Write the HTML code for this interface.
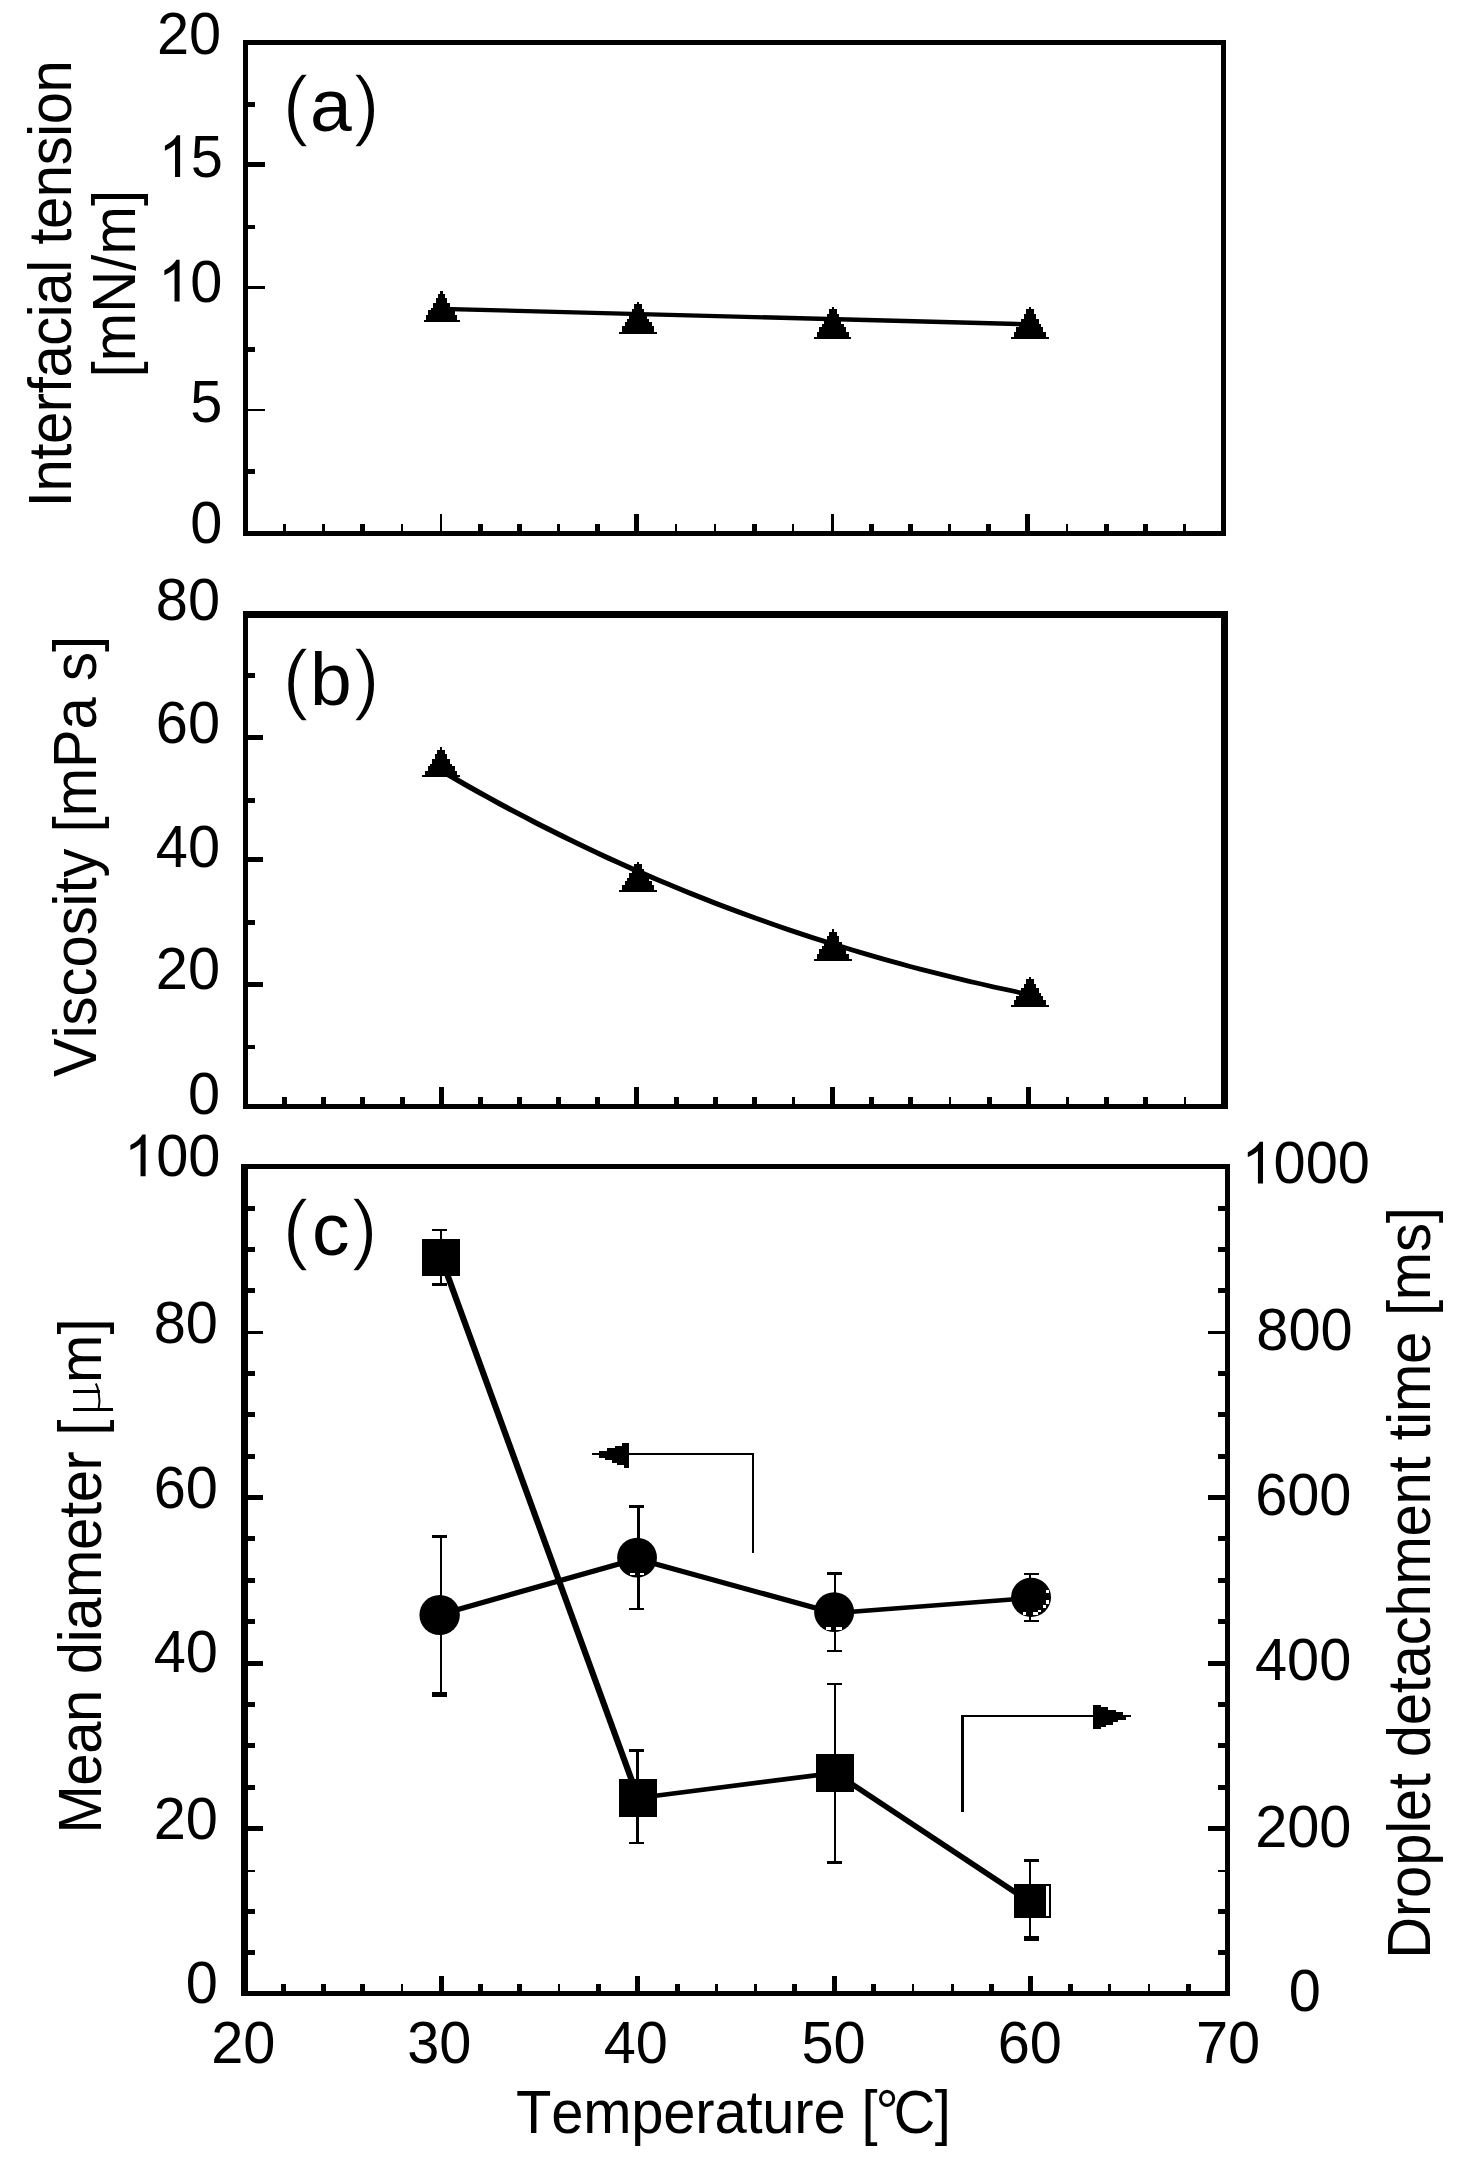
<!DOCTYPE html>
<html lang="en">
<head>
<meta charset="utf-8">
<title>Temperature dependence of interfacial tension, viscosity, droplet diameter and detachment time</title>
<style>
html,body{margin:0;padding:0;background:#fff;}
body{width:1462px;height:2159px;overflow:hidden;font-family:"Liberation Sans", sans-serif;}
svg{display:block;}
text{font-family:"Liberation Sans", sans-serif;}
</style>
</head>
<body>
<svg width="1462" height="2159" viewBox="0 0 1462 2159">
<rect x="0" y="0" width="1462" height="2159" fill="#fff"/>
<g shape-rendering="crispEdges">
<rect x="243.00" y="40.00" width="5.00" height="496.00" fill="#000"/>
<rect x="1221.00" y="40.00" width="5.00" height="496.00" fill="#000"/>
<rect x="243.00" y="40.00" width="983.00" height="5.00" fill="#000"/>
<rect x="243.00" y="531.00" width="983.00" height="5.00" fill="#000"/>
<rect x="243.00" y="611.00" width="5.00" height="498.00" fill="#000"/>
<rect x="1221.00" y="611.00" width="7.00" height="498.00" fill="#000"/>
<rect x="243.00" y="611.00" width="985.00" height="7.00" fill="#000"/>
<rect x="243.00" y="1104.00" width="985.00" height="5.00" fill="#000"/>
<rect x="241.00" y="1164.00" width="7.00" height="832.00" fill="#000"/>
<rect x="1225.00" y="1164.00" width="5.00" height="832.00" fill="#000"/>
<rect x="241.00" y="1164.00" width="989.00" height="5.00" fill="#000"/>
<rect x="241.00" y="1991.00" width="989.00" height="5.00" fill="#000"/>
<rect x="283.37" y="523.50" width="2.50" height="8.50" fill="#000"/>
<rect x="322.49" y="523.50" width="2.50" height="8.50" fill="#000"/>
<rect x="360.36" y="523.50" width="5.00" height="8.50" fill="#000"/>
<rect x="400.73" y="523.50" width="2.50" height="8.50" fill="#000"/>
<rect x="439.85" y="513.50" width="2.50" height="18.50" fill="#000"/>
<rect x="477.72" y="523.50" width="5.00" height="8.50" fill="#000"/>
<rect x="516.84" y="523.50" width="5.00" height="8.50" fill="#000"/>
<rect x="557.21" y="523.50" width="2.50" height="8.50" fill="#000"/>
<rect x="595.08" y="523.50" width="5.00" height="8.50" fill="#000"/>
<rect x="634.20" y="513.50" width="5.00" height="18.50" fill="#000"/>
<rect x="674.57" y="523.50" width="2.50" height="8.50" fill="#000"/>
<rect x="713.69" y="523.50" width="2.50" height="8.50" fill="#000"/>
<rect x="751.56" y="523.50" width="5.00" height="8.50" fill="#000"/>
<rect x="791.93" y="523.50" width="2.50" height="8.50" fill="#000"/>
<rect x="831.05" y="513.50" width="2.50" height="18.50" fill="#000"/>
<rect x="868.92" y="523.50" width="5.00" height="8.50" fill="#000"/>
<rect x="908.04" y="523.50" width="5.00" height="8.50" fill="#000"/>
<rect x="948.41" y="523.50" width="2.50" height="8.50" fill="#000"/>
<rect x="986.28" y="523.50" width="5.00" height="8.50" fill="#000"/>
<rect x="1025.40" y="513.50" width="5.00" height="18.50" fill="#000"/>
<rect x="1065.77" y="523.50" width="2.50" height="8.50" fill="#000"/>
<rect x="1103.64" y="523.50" width="5.00" height="8.50" fill="#000"/>
<rect x="1142.76" y="523.50" width="5.00" height="8.50" fill="#000"/>
<rect x="1183.13" y="523.50" width="2.50" height="8.50" fill="#000"/>
<rect x="282.14" y="1097.00" width="5.00" height="8.00" fill="#000"/>
<rect x="321.28" y="1097.00" width="5.00" height="8.00" fill="#000"/>
<rect x="360.42" y="1097.00" width="5.00" height="8.00" fill="#000"/>
<rect x="399.56" y="1097.00" width="5.00" height="8.00" fill="#000"/>
<rect x="438.70" y="1087.00" width="5.00" height="18.00" fill="#000"/>
<rect x="477.84" y="1097.00" width="5.00" height="8.00" fill="#000"/>
<rect x="516.98" y="1097.00" width="5.00" height="8.00" fill="#000"/>
<rect x="556.12" y="1097.00" width="5.00" height="8.00" fill="#000"/>
<rect x="595.26" y="1097.00" width="5.00" height="8.00" fill="#000"/>
<rect x="634.40" y="1087.00" width="5.00" height="18.00" fill="#000"/>
<rect x="673.54" y="1097.00" width="5.00" height="8.00" fill="#000"/>
<rect x="712.68" y="1097.00" width="5.00" height="8.00" fill="#000"/>
<rect x="751.82" y="1097.00" width="5.00" height="8.00" fill="#000"/>
<rect x="792.21" y="1097.00" width="2.50" height="8.00" fill="#000"/>
<rect x="830.10" y="1087.00" width="5.00" height="18.00" fill="#000"/>
<rect x="869.24" y="1097.00" width="5.00" height="8.00" fill="#000"/>
<rect x="908.38" y="1097.00" width="5.00" height="8.00" fill="#000"/>
<rect x="948.77" y="1097.00" width="2.50" height="8.00" fill="#000"/>
<rect x="986.66" y="1097.00" width="5.00" height="8.00" fill="#000"/>
<rect x="1025.80" y="1087.00" width="5.00" height="18.00" fill="#000"/>
<rect x="1066.19" y="1097.00" width="2.50" height="8.00" fill="#000"/>
<rect x="1104.08" y="1097.00" width="5.00" height="8.00" fill="#000"/>
<rect x="1143.22" y="1097.00" width="5.00" height="8.00" fill="#000"/>
<rect x="1183.61" y="1097.00" width="2.50" height="8.00" fill="#000"/>
<rect x="281.32" y="1983.50" width="5.00" height="8.50" fill="#000"/>
<rect x="320.64" y="1983.50" width="5.00" height="8.50" fill="#000"/>
<rect x="359.96" y="1983.50" width="5.00" height="8.50" fill="#000"/>
<rect x="400.53" y="1983.50" width="2.50" height="8.50" fill="#000"/>
<rect x="438.60" y="1976.00" width="5.00" height="16.00" fill="#000"/>
<rect x="477.92" y="1983.50" width="5.00" height="8.50" fill="#000"/>
<rect x="517.24" y="1983.50" width="5.00" height="8.50" fill="#000"/>
<rect x="557.81" y="1983.50" width="2.50" height="8.50" fill="#000"/>
<rect x="595.88" y="1983.50" width="5.00" height="8.50" fill="#000"/>
<rect x="635.20" y="1976.00" width="5.00" height="16.00" fill="#000"/>
<rect x="674.52" y="1983.50" width="5.00" height="8.50" fill="#000"/>
<rect x="715.09" y="1983.50" width="2.50" height="8.50" fill="#000"/>
<rect x="754.41" y="1983.50" width="2.50" height="8.50" fill="#000"/>
<rect x="792.48" y="1983.50" width="5.00" height="8.50" fill="#000"/>
<rect x="831.80" y="1976.00" width="5.00" height="16.00" fill="#000"/>
<rect x="871.12" y="1983.50" width="5.00" height="8.50" fill="#000"/>
<rect x="911.69" y="1983.50" width="2.50" height="8.50" fill="#000"/>
<rect x="951.01" y="1983.50" width="2.50" height="8.50" fill="#000"/>
<rect x="989.08" y="1983.50" width="5.00" height="8.50" fill="#000"/>
<rect x="1028.40" y="1976.00" width="5.00" height="16.00" fill="#000"/>
<rect x="1067.72" y="1983.50" width="5.00" height="8.50" fill="#000"/>
<rect x="1108.29" y="1983.50" width="2.50" height="8.50" fill="#000"/>
<rect x="1147.61" y="1983.50" width="2.50" height="8.50" fill="#000"/>
<rect x="1185.68" y="1983.50" width="5.00" height="8.50" fill="#000"/>
<rect x="247.00" y="102.25" width="8.00" height="5.00" fill="#000"/>
<rect x="247.00" y="161.95" width="18.00" height="5.30" fill="#000"/>
<rect x="247.00" y="224.55" width="8.00" height="4.50" fill="#000"/>
<rect x="247.00" y="286.20" width="18.00" height="2.80" fill="#000"/>
<rect x="247.00" y="346.60" width="8.00" height="5.00" fill="#000"/>
<rect x="247.00" y="408.60" width="18.00" height="2.40" fill="#000"/>
<rect x="247.00" y="468.80" width="8.00" height="5.00" fill="#000"/>
<rect x="247.00" y="672.80" width="8.00" height="5.20" fill="#000"/>
<rect x="247.00" y="735.15" width="15.70" height="5.20" fill="#000"/>
<rect x="247.00" y="797.60" width="8.00" height="5.20" fill="#000"/>
<rect x="247.00" y="857.40" width="15.70" height="4.80" fill="#000"/>
<rect x="247.00" y="920.20" width="8.00" height="4.60" fill="#000"/>
<rect x="247.00" y="982.20" width="15.70" height="4.60" fill="#000"/>
<rect x="247.00" y="1044.70" width="8.00" height="4.60" fill="#000"/>
<rect x="247.00" y="1949.95" width="8.00" height="5.00" fill="#000"/>
<rect x="247.00" y="1908.60" width="8.00" height="5.00" fill="#000"/>
<rect x="247.00" y="1869.80" width="8.00" height="2.40" fill="#000"/>
<rect x="247.00" y="1825.90" width="15.50" height="5.00" fill="#000"/>
<rect x="247.00" y="1784.55" width="8.00" height="5.00" fill="#000"/>
<rect x="247.00" y="1743.20" width="8.00" height="5.00" fill="#000"/>
<rect x="247.00" y="1701.85" width="8.00" height="5.00" fill="#000"/>
<rect x="247.00" y="1660.50" width="15.50" height="5.00" fill="#000"/>
<rect x="247.00" y="1619.15" width="8.00" height="5.00" fill="#000"/>
<rect x="247.00" y="1577.80" width="8.00" height="5.00" fill="#000"/>
<rect x="247.00" y="1536.45" width="8.00" height="5.00" fill="#000"/>
<rect x="247.00" y="1495.10" width="15.50" height="5.00" fill="#000"/>
<rect x="247.00" y="1453.75" width="8.00" height="5.00" fill="#000"/>
<rect x="247.00" y="1412.40" width="8.00" height="5.00" fill="#000"/>
<rect x="247.00" y="1371.05" width="8.00" height="5.00" fill="#000"/>
<rect x="247.00" y="1331.15" width="15.50" height="2.70" fill="#000"/>
<rect x="247.00" y="1288.35" width="8.00" height="5.00" fill="#000"/>
<rect x="247.00" y="1247.00" width="8.00" height="5.00" fill="#000"/>
<rect x="247.00" y="1205.65" width="8.00" height="5.00" fill="#000"/>
<rect x="1218.20" y="1949.95" width="7.80" height="5.00" fill="#000"/>
<rect x="1218.20" y="1908.60" width="7.80" height="5.00" fill="#000"/>
<rect x="1218.20" y="1869.80" width="7.80" height="2.40" fill="#000"/>
<rect x="1207.90" y="1825.90" width="18.10" height="5.00" fill="#000"/>
<rect x="1218.20" y="1784.55" width="7.80" height="5.00" fill="#000"/>
<rect x="1218.20" y="1743.20" width="7.80" height="5.00" fill="#000"/>
<rect x="1218.20" y="1701.85" width="7.80" height="5.00" fill="#000"/>
<rect x="1207.90" y="1660.50" width="18.10" height="5.00" fill="#000"/>
<rect x="1218.20" y="1619.15" width="7.80" height="5.00" fill="#000"/>
<rect x="1218.20" y="1577.80" width="7.80" height="5.00" fill="#000"/>
<rect x="1218.20" y="1536.45" width="7.80" height="5.00" fill="#000"/>
<rect x="1207.90" y="1495.10" width="18.10" height="5.00" fill="#000"/>
<rect x="1218.20" y="1453.75" width="7.80" height="5.00" fill="#000"/>
<rect x="1218.20" y="1412.40" width="7.80" height="5.00" fill="#000"/>
<rect x="1218.20" y="1371.05" width="7.80" height="5.00" fill="#000"/>
<rect x="1207.90" y="1331.15" width="18.10" height="2.70" fill="#000"/>
<rect x="1218.20" y="1288.35" width="7.80" height="5.00" fill="#000"/>
<rect x="1218.20" y="1247.00" width="7.80" height="5.00" fill="#000"/>
<rect x="1218.20" y="1205.65" width="7.80" height="5.00" fill="#000"/>
</g>
<g font-family='"Liberation Sans", sans-serif' fill="#000" style="font-kerning:none">
<g aria-label="20">
<text transform="translate(157.00,54.00) scale(0.995,1.035)" font-size="58">2</text>
<text transform="translate(189.10,54.00) scale(0.995,1.035)" font-size="58">0</text>
</g>
<g aria-label="15">
<path transform="translate(158.60,177.00) scale(0.02818,-0.02832)" d="M763 0H583V1147Q518 1085 412.5 1023T223 930V1104Q374 1175 487 1276T647 1472H763Z"/>
<text transform="translate(190.70,177.00) scale(0.995,1.035)" font-size="58">5</text>
</g>
<g aria-label="10">
<path transform="translate(158.10,301.50) scale(0.02818,-0.02832)" d="M763 0H583V1147Q518 1085 412.5 1023T223 930V1104Q374 1175 487 1276T647 1472H763Z"/>
<text transform="translate(190.20,301.50) scale(0.995,1.035)" font-size="58">0</text>
</g>
<g aria-label="5">
<text transform="translate(190.20,421.50) scale(0.995,1.035)" font-size="58">5</text>
</g>
<g aria-label="0">
<text transform="translate(190.20,543.00) scale(0.995,1.035)" font-size="58">0</text>
</g>
<g aria-label="80">
<text transform="translate(155.80,620.40) scale(0.995,1.035)" font-size="58">8</text>
<text transform="translate(187.90,620.40) scale(0.995,1.035)" font-size="58">0</text>
</g>
<g aria-label="60">
<text transform="translate(155.80,742.60) scale(0.995,1.035)" font-size="58">6</text>
<text transform="translate(187.90,742.60) scale(0.995,1.035)" font-size="58">0</text>
</g>
<g aria-label="40">
<text transform="translate(155.80,867.20) scale(0.995,1.035)" font-size="58">4</text>
<text transform="translate(187.90,867.20) scale(0.995,1.035)" font-size="58">0</text>
</g>
<g aria-label="20">
<text transform="translate(155.80,989.40) scale(0.995,1.035)" font-size="58">2</text>
<text transform="translate(187.90,989.40) scale(0.995,1.035)" font-size="58">0</text>
</g>
<g aria-label="0">
<text transform="translate(187.90,1113.50) scale(0.995,1.035)" font-size="58">0</text>
</g>
<g aria-label="100">
<path transform="translate(124.11,1176.30) scale(0.02818,-0.02832)" d="M763 0H583V1147Q518 1085 412.5 1023T223 930V1104Q374 1175 487 1276T647 1472H763Z"/>
<text transform="translate(156.20,1176.30) scale(0.995,1.035)" font-size="58">0</text>
<text transform="translate(188.30,1176.30) scale(0.995,1.035)" font-size="58">0</text>
</g>
<g aria-label="80">
<text transform="translate(153.70,1343.00) scale(0.995,1.035)" font-size="58">8</text>
<text transform="translate(185.80,1343.00) scale(0.995,1.035)" font-size="58">0</text>
</g>
<g aria-label="60">
<text transform="translate(153.70,1507.60) scale(0.995,1.035)" font-size="58">6</text>
<text transform="translate(185.80,1507.60) scale(0.995,1.035)" font-size="58">0</text>
</g>
<g aria-label="40">
<text transform="translate(153.70,1672.00) scale(0.995,1.035)" font-size="58">4</text>
<text transform="translate(185.80,1672.00) scale(0.995,1.035)" font-size="58">0</text>
</g>
<g aria-label="20">
<text transform="translate(153.70,1839.30) scale(0.995,1.035)" font-size="58">2</text>
<text transform="translate(185.80,1839.30) scale(0.995,1.035)" font-size="58">0</text>
</g>
<g aria-label="0">
<text transform="translate(185.80,2003.00) scale(0.995,1.035)" font-size="58">0</text>
</g>
<g aria-label="1000">
<path transform="translate(1241.50,1183.40) scale(0.02818,-0.02832)" d="M763 0H583V1147Q518 1085 412.5 1023T223 930V1104Q374 1175 487 1276T647 1472H763Z"/>
<text transform="translate(1273.60,1183.40) scale(0.995,1.035)" font-size="58">0</text>
<text transform="translate(1305.70,1183.40) scale(0.995,1.035)" font-size="58">0</text>
<text transform="translate(1337.80,1183.40) scale(0.995,1.035)" font-size="58">0</text>
</g>
<g aria-label="800">
<text transform="translate(1256.35,1350.00) scale(0.995,1.035)" font-size="58">8</text>
<text transform="translate(1288.45,1350.00) scale(0.995,1.035)" font-size="58">0</text>
<text transform="translate(1320.55,1350.00) scale(0.995,1.035)" font-size="58">0</text>
</g>
<g aria-label="600">
<text transform="translate(1255.15,1515.00) scale(0.995,1.035)" font-size="58">6</text>
<text transform="translate(1287.25,1515.00) scale(0.995,1.035)" font-size="58">0</text>
<text transform="translate(1319.35,1515.00) scale(0.995,1.035)" font-size="58">0</text>
</g>
<g aria-label="400">
<text transform="translate(1254.95,1679.60) scale(0.995,1.035)" font-size="58">4</text>
<text transform="translate(1287.05,1679.60) scale(0.995,1.035)" font-size="58">0</text>
<text transform="translate(1319.15,1679.60) scale(0.995,1.035)" font-size="58">0</text>
</g>
<g aria-label="200">
<text transform="translate(1255.15,1846.80) scale(0.995,1.035)" font-size="58">2</text>
<text transform="translate(1287.25,1846.80) scale(0.995,1.035)" font-size="58">0</text>
<text transform="translate(1319.35,1846.80) scale(0.995,1.035)" font-size="58">0</text>
</g>
<g aria-label="0">
<text transform="translate(1288.65,2010.50) scale(0.995,1.035)" font-size="58">0</text>
</g>
<g aria-label="20">
<text transform="translate(211.20,2063.20) scale(0.995,1.035)" font-size="58">2</text>
<text transform="translate(243.30,2063.20) scale(0.995,1.035)" font-size="58">0</text>
</g>
<g aria-label="30">
<text transform="translate(407.20,2063.20) scale(0.995,1.035)" font-size="58">3</text>
<text transform="translate(439.30,2063.20) scale(0.995,1.035)" font-size="58">0</text>
</g>
<g aria-label="40">
<text transform="translate(603.70,2063.20) scale(0.995,1.035)" font-size="58">4</text>
<text transform="translate(635.80,2063.20) scale(0.995,1.035)" font-size="58">0</text>
</g>
<g aria-label="50">
<text transform="translate(801.40,2063.20) scale(0.995,1.035)" font-size="58">5</text>
<text transform="translate(833.50,2063.20) scale(0.995,1.035)" font-size="58">0</text>
</g>
<g aria-label="60">
<text transform="translate(997.70,2063.20) scale(0.995,1.035)" font-size="58">6</text>
<text transform="translate(1029.80,2063.20) scale(0.995,1.035)" font-size="58">0</text>
</g>
<g aria-label="70">
<text transform="translate(1195.90,2063.20) scale(0.995,1.035)" font-size="58">7</text>
<text transform="translate(1228.00,2063.20) scale(0.995,1.035)" font-size="58">0</text>
</g>
<text transform="translate(516.00,2133.00) scale(1.0,1.045)" font-size="58" text-anchor="start" textLength="361.5" lengthAdjust="spacing">Temperature [</text>
<text transform="translate(875.50,2133.00) scale(1.0,1.045)" font-size="58" text-anchor="start">°</text>
<text transform="translate(893.60,2133.00) scale(1.0,1.045)" font-size="58" text-anchor="start">C</text>
<text transform="translate(934.70,2133.00) scale(1.0,1.045)" font-size="58" text-anchor="start">]</text>
<text transform="translate(70.60,283.70) rotate(-90) scale(1,1.045)" font-size="58" text-anchor="middle" textLength="447.0" lengthAdjust="spacing">Interfacial tension</text>
<text transform="translate(135.40,283.70) rotate(-90) scale(1,1.045)" font-size="58" text-anchor="middle" textLength="187.6" lengthAdjust="spacing">[mN/m]</text>
<text transform="translate(95.70,856.50) rotate(-90) scale(1,1.045)" font-size="58" text-anchor="middle" textLength="441.0" lengthAdjust="spacing">Viscosity [mPa s]</text>
<text transform="translate(100.60,1833.60) rotate(-90) scale(1,1.045)" font-size="58" text-anchor="start" textLength="414.0" lengthAdjust="spacing">Mean diameter [</text>
<g shape-rendering="crispEdges">
<rect x="72.90" y="1408.00" width="40.10" height="3.00" fill="#000"/>
<rect x="72.90" y="1390.00" width="27.40" height="3.10" fill="#000"/>
</g>
<path d="M98.6,1409 C99.8,1403.5 99.8,1398 98.6,1392.5 C98.0,1388.5 97.0,1385.5 95.8,1383.4" fill="none" stroke="#000" stroke-width="2"/>
<text transform="translate(100.60,1382.90) rotate(-90) scale(1,1.045)" font-size="58" text-anchor="start">m]</text>
<text transform="translate(1430.30,1582.90) rotate(-90) scale(1,1.045)" font-size="58" text-anchor="middle" textLength="751.5" lengthAdjust="spacing">Droplet detachment time [ms]</text>
<g stroke="#fff" stroke-width="1.3">
<text transform="translate(282.70,131.00) scale(1.0,1.0)" font-size="78" text-anchor="start">(</text>
<text transform="translate(353.60,131.00) scale(1.0,1.0)" font-size="78" text-anchor="start">)</text>
</g>
<text transform="translate(330.80,131.00) scale(1.0,1.0)" font-size="75" text-anchor="middle">a</text>
<g stroke="#fff" stroke-width="1.3">
<text transform="translate(282.70,704.70) scale(1.0,1.0)" font-size="78" text-anchor="start">(</text>
<text transform="translate(353.60,704.70) scale(1.0,1.0)" font-size="78" text-anchor="start">)</text>
</g>
<text transform="translate(330.80,704.70) scale(1.0,1.0)" font-size="75" text-anchor="middle">b</text>
<g stroke="#fff" stroke-width="1.3">
<text transform="translate(282.70,1255.00) scale(1.0,1.0)" font-size="78" text-anchor="start">(</text>
<text transform="translate(351.40,1255.00) scale(1.0,1.0)" font-size="78" text-anchor="start">)</text>
</g>
<text transform="translate(330.80,1255.00) scale(1.0,1.0)" font-size="75" text-anchor="middle">c</text>
</g>
<g fill="#000" stroke="none">
<path d="M438.9,306.7L443.1,306.7L1031.7,322.2L1031.7,326.5L1027.3,326.5L438.9,310.9Z"/>
<polygon shape-rendering="crispEdges" points="442.6,291.3 442.6,293.6 445.2,293.6 445.2,298.1 447.4,298.1 447.4,303.0 449.9,303.0 449.9,307.7 452.3,307.7 452.3,310.3 454.6,310.3 454.6,315.0 456.9,315.0 456.9,319.8 459.5,319.8 459.5,321.8 423.5,321.8 423.5,319.8 426.1,319.8 426.1,315.0 428.4,315.0 428.4,310.3 430.7,310.3 430.7,307.7 433.1,307.7 433.1,303.0 435.6,303.0 435.6,298.1 437.8,298.1 437.8,293.6 440.4,293.6 440.4,291.3"/>
<polygon shape-rendering="crispEdges" points="639.1,301.5 639.1,304.0 641.8,304.0 641.8,308.7 644.2,308.7 644.2,313.8 646.7,313.8 646.7,318.8 649.2,318.8 649.2,321.5 651.5,321.5 651.5,326.4 654.0,326.4 654.0,331.5 656.7,331.5 656.7,333.6 619.3,333.6 619.3,331.5 622.0,331.5 622.0,326.4 624.5,326.4 624.5,321.5 626.8,321.5 626.8,318.8 629.3,318.8 629.3,313.8 631.8,313.8 631.8,308.7 634.2,308.7 634.2,304.0 636.9,304.0 636.9,301.5"/>
<polygon shape-rendering="crispEdges" points="833.8,306.7 833.8,309.2 836.5,309.2 836.5,313.9 838.9,313.9 838.9,319.0 841.4,319.0 841.4,323.9 843.9,323.9 843.9,326.6 846.2,326.6 846.2,331.5 848.7,331.5 848.7,336.6 851.4,336.6 851.4,338.7 814.0,338.7 814.0,336.6 816.7,336.6 816.7,331.5 819.2,331.5 819.2,326.6 821.5,326.6 821.5,323.9 824.0,323.9 824.0,319.0 826.5,319.0 826.5,313.9 828.9,313.9 828.9,309.2 831.6,309.2 831.6,306.7"/>
<polygon shape-rendering="crispEdges" points="1030.9,306.7 1030.9,309.2 1033.6,309.2 1033.6,313.9 1036.0,313.9 1036.0,319.0 1038.5,319.0 1038.5,323.9 1041.0,323.9 1041.0,326.6 1043.3,326.6 1043.3,331.5 1045.8,331.5 1045.8,336.6 1048.5,336.6 1048.5,338.7 1011.1,338.7 1011.1,336.6 1013.8,336.6 1013.8,331.5 1016.3,331.5 1016.3,326.6 1018.6,326.6 1018.6,323.9 1021.1,323.9 1021.1,319.0 1023.6,319.0 1023.6,313.9 1026.0,313.9 1026.0,309.2 1028.7,309.2 1028.7,306.7"/>
<path d="M439.1,768.5L442.9,768.5L455.0,775.6L455.0,779.5L451.1,779.5L439.1,772.4ZM451.1,775.6L455.0,775.6L467.0,782.5L467.0,786.4L463.1,786.4L451.1,779.5ZM463.1,782.5L467.0,782.5L479.0,789.3L479.0,793.2L475.1,793.2L463.1,786.4ZM475.1,789.3L479.0,789.3L491.0,795.9L491.0,799.8L487.1,799.8L475.1,793.2ZM487.1,795.9L491.0,795.9L503.0,802.5L503.0,806.4L499.1,806.4L487.1,799.8ZM499.1,802.5L503.0,802.5L515.0,808.9L515.0,812.8L511.1,812.8L499.1,806.4ZM511.1,808.9L515.0,808.9L527.1,815.2L527.1,819.1L523.2,819.1L511.1,812.8ZM523.2,815.2L527.1,815.2L539.1,821.5L539.1,825.4L535.2,825.4L523.2,819.1ZM535.2,821.5L539.1,821.5L551.1,827.6L551.1,831.5L547.2,831.5L535.2,825.4ZM547.2,827.6L551.1,827.6L563.1,833.6L563.1,837.5L559.2,837.5L547.2,831.5ZM559.2,833.6L563.1,833.6L575.1,839.4L575.1,843.3L571.2,843.3L559.2,837.5ZM571.2,839.4L575.1,839.4L587.1,845.2L587.1,849.1L583.2,849.1L571.2,843.3ZM583.2,845.2L587.1,845.2L599.2,850.9L599.2,854.8L595.3,854.8L583.2,849.1ZM595.3,850.9L599.2,850.9L611.2,856.5L611.2,860.4L607.3,860.4L595.3,854.8ZM607.3,856.5L611.2,856.5L623.2,861.9L623.2,865.8L619.3,865.8L607.3,860.4ZM619.3,861.9L623.2,861.9L635.2,867.3L635.2,871.2L631.3,871.2L619.3,865.8ZM631.3,867.3L635.2,867.3L647.2,872.5L647.2,876.4L643.3,876.4L631.3,871.2ZM643.3,872.5L647.2,872.5L659.2,877.7L659.2,881.6L655.3,881.6L643.3,876.4ZM655.3,877.7L659.2,877.7L671.3,882.7L671.3,886.6L667.4,886.6L655.3,881.6ZM667.4,882.7L671.3,882.7L683.3,887.7L683.3,891.6L679.4,891.6L667.4,886.6ZM679.4,887.7L683.3,887.7L695.3,892.6L695.3,896.5L691.4,896.5L679.4,891.6ZM691.4,892.6L695.3,892.6L707.3,897.3L707.3,901.2L703.4,901.2L691.4,896.5ZM703.4,897.3L707.3,897.3L719.3,902.0L719.3,905.9L715.4,905.9L703.4,901.2ZM715.4,902.0L719.3,902.0L731.3,906.6L731.3,910.5L727.4,910.5L715.4,905.9ZM727.4,906.6L731.3,906.6L743.4,911.0L743.4,914.9L739.5,914.9L727.4,910.5ZM739.5,911.0L743.4,911.0L755.4,915.4L755.4,919.3L751.5,919.3L739.5,914.9ZM751.5,915.4L755.4,915.4L767.4,919.7L767.4,923.6L763.5,923.6L751.5,919.3ZM763.5,919.7L767.4,919.7L779.4,923.9L779.4,927.8L775.5,927.8L763.5,923.6ZM775.5,923.9L779.4,923.9L791.4,928.0L791.4,931.9L787.5,931.9L775.5,927.8ZM787.5,928.0L791.4,928.0L803.4,932.0L803.4,935.9L799.5,935.9L787.5,931.9ZM799.5,932.0L803.4,932.0L815.5,936.0L815.5,939.9L811.6,939.9L799.5,935.9ZM811.6,936.0L815.5,936.0L827.5,939.8L827.5,943.7L823.6,943.7L811.6,939.9ZM823.6,939.8L827.5,939.8L839.5,943.6L839.5,947.5L835.6,947.5L823.6,943.7ZM835.6,943.6L839.5,943.6L851.5,947.2L851.5,951.1L847.6,951.1L835.6,947.5ZM847.6,947.2L851.5,947.2L863.5,950.8L863.5,954.7L859.6,954.7L847.6,951.1ZM859.6,950.8L863.5,950.8L875.5,954.3L875.5,958.2L871.6,958.2L859.6,954.7ZM871.6,954.3L875.5,954.3L887.6,957.8L887.6,961.7L883.7,961.7L871.6,958.2ZM883.7,957.8L887.6,957.8L899.6,961.1L899.6,965.0L895.7,965.0L883.7,961.7ZM895.7,961.1L899.6,961.1L911.6,964.4L911.6,968.3L907.7,968.3L895.7,965.0ZM907.7,964.4L911.6,964.4L923.6,967.5L923.6,971.4L919.7,971.4L907.7,968.3ZM919.7,967.5L923.6,967.5L935.6,970.6L935.6,974.5L931.7,974.5L919.7,971.4ZM931.7,970.6L935.6,970.6L947.6,973.6L947.6,977.5L943.7,977.5L931.7,974.5ZM943.7,973.6L947.6,973.6L959.7,976.6L959.7,980.5L955.8,980.5L943.7,977.5ZM955.8,976.6L959.7,976.6L971.7,979.5L971.7,983.4L967.8,983.4L955.8,980.5ZM967.8,979.5L971.7,979.5L983.7,982.2L983.7,986.1L979.8,986.1L967.8,983.4ZM979.8,982.2L983.7,982.2L995.7,985.0L995.7,988.9L991.8,988.9L979.8,986.1ZM991.8,985.0L995.7,985.0L1007.7,987.6L1007.7,991.5L1003.8,991.5L991.8,988.9ZM1003.8,987.6L1007.7,987.6L1019.7,990.2L1019.7,994.1L1015.8,994.1L1003.8,991.5ZM1015.8,990.2L1019.7,990.2L1031.8,992.6L1031.8,996.5L1027.8,996.5L1015.8,994.1Z"/>
<polygon shape-rendering="crispEdges" points="442.2,747.3 442.2,749.6 444.9,749.6 444.9,754.0 447.3,754.0 447.3,758.8 449.8,758.8 449.8,763.5 452.3,763.5 452.3,766.0 454.6,766.0 454.6,770.6 457.1,770.6 457.1,775.4 459.8,775.4 459.8,777.3 422.4,777.3 422.4,775.4 425.1,775.4 425.1,770.6 427.6,770.6 427.6,766.0 429.9,766.0 429.9,763.5 432.4,763.5 432.4,758.8 434.9,758.8 434.9,754.0 437.3,754.0 437.3,749.6 440.0,749.6 440.0,747.3"/>
<polygon shape-rendering="crispEdges" points="639.2,861.8 639.2,864.1 641.9,864.1 641.9,868.5 644.3,868.5 644.3,873.3 646.8,873.3 646.8,878.0 649.3,878.0 649.3,880.5 651.6,880.5 651.6,885.1 654.1,885.1 654.1,889.9 656.8,889.9 656.8,891.8 619.4,891.8 619.4,889.9 622.1,889.9 622.1,885.1 624.6,885.1 624.6,880.5 626.9,880.5 626.9,878.0 629.4,878.0 629.4,873.3 631.9,873.3 631.9,868.5 634.3,868.5 634.3,864.1 637.0,864.1 637.0,861.8"/>
<polygon shape-rendering="crispEdges" points="833.9,929.2 833.9,931.7 836.6,931.7 836.6,936.4 839.0,936.4 839.0,941.5 841.5,941.5 841.5,946.4 844.0,946.4 844.0,949.1 846.3,949.1 846.3,954.0 848.8,954.0 848.8,959.2 851.5,959.2 851.5,961.2 814.1,961.2 814.1,959.2 816.8,959.2 816.8,954.0 819.3,954.0 819.3,949.1 821.6,949.1 821.6,946.4 824.1,946.4 824.1,941.5 826.6,941.5 826.6,936.4 829.0,936.4 829.0,931.7 831.7,931.7 831.7,929.2"/>
<polygon shape-rendering="crispEdges" points="1030.9,977.0 1030.9,979.3 1033.6,979.3 1033.6,983.7 1036.0,983.7 1036.0,988.4 1038.5,988.4 1038.5,993.0 1041.0,993.0 1041.0,995.5 1043.3,995.5 1043.3,1000.0 1045.8,1000.0 1045.8,1004.8 1048.5,1004.8 1048.5,1006.7 1011.1,1006.7 1011.1,1004.8 1013.8,1004.8 1013.8,1000.0 1016.3,1000.0 1016.3,995.5 1018.6,995.5 1018.6,993.0 1021.1,993.0 1021.1,988.4 1023.6,988.4 1023.6,983.7 1026.0,983.7 1026.0,979.3 1028.7,979.3 1028.7,977.0"/>
<path d="M438.6,1254.9L443.4,1254.9L640.6,1795.6L640.6,1800.4L635.8,1800.4L438.6,1259.7Z"/>
<path d="M636.1,1795.9L833.1,1770.8L837.3,1770.8L837.3,1775.0L640.3,1800.1L636.1,1800.1Z"/>
<path d="M833.2,1771.0L837.2,1771.0L1033.5,1901.0L1033.5,1905.0L1029.5,1905.0L833.2,1774.9Z"/>
<path d="M437.7,1612.5L634.9,1556.7L639.1,1556.7L639.1,1560.9L441.9,1616.7L437.7,1616.7ZM634.9,1556.7L639.1,1556.7L836.2,1611.1L836.2,1615.3L832.0,1615.3L634.9,1560.9ZM832.0,1611.1L1029.0,1595.8L1033.1,1595.8L1033.1,1600.0L836.2,1615.3L832.0,1615.3Z"/>
<g shape-rendering="crispEdges">
<rect x="439.75" y="1229.80" width="2.40" height="54.70" fill="#000"/>
<rect x="432.15" y="1228.55" width="15.00" height="2.50" fill="#000"/>
<rect x="432.15" y="1283.25" width="15.00" height="2.50" fill="#000"/>
</g>
<g shape-rendering="crispEdges">
<rect x="636.45" y="1750.70" width="2.40" height="92.30" fill="#000"/>
<rect x="629.15" y="1749.45" width="15.00" height="2.50" fill="#000"/>
<rect x="629.15" y="1841.75" width="15.00" height="2.50" fill="#000"/>
</g>
<g shape-rendering="crispEdges">
<rect x="834.00" y="1683.90" width="2.40" height="178.80" fill="#000"/>
<rect x="826.60" y="1682.65" width="15.00" height="2.50" fill="#000"/>
<rect x="826.60" y="1861.45" width="15.00" height="2.50" fill="#000"/>
</g>
<g shape-rendering="crispEdges">
<rect x="1028.95" y="1860.40" width="2.40" height="78.30" fill="#000"/>
<rect x="1023.50" y="1859.10" width="15.00" height="2.60" fill="#000"/>
<rect x="1023.50" y="1936.20" width="15.00" height="5.00" fill="#000"/>
</g>
<g shape-rendering="crispEdges">
<rect x="439.65" y="1536.60" width="2.40" height="157.70" fill="#000"/>
<rect x="432.15" y="1535.35" width="15.00" height="2.50" fill="#000"/>
<rect x="432.15" y="1691.85" width="15.00" height="4.90" fill="#000"/>
</g>
<g shape-rendering="crispEdges">
<rect x="637.15" y="1506.70" width="2.40" height="102.10" fill="#000"/>
<rect x="629.35" y="1505.45" width="15.00" height="2.50" fill="#000"/>
<rect x="629.35" y="1607.55" width="15.00" height="2.50" fill="#000"/>
</g>
<g shape-rendering="crispEdges">
<rect x="834.00" y="1573.70" width="2.40" height="77.10" fill="#000"/>
<rect x="826.50" y="1572.45" width="15.00" height="2.50" fill="#000"/>
<rect x="826.50" y="1649.55" width="15.00" height="2.50" fill="#000"/>
</g>
<g shape-rendering="crispEdges">
<rect x="1029.05" y="1573.70" width="2.00" height="47.45" fill="#000"/>
<rect x="1023.55" y="1572.55" width="15.00" height="2.30" fill="#000"/>
<rect x="1023.55" y="1620.15" width="15.00" height="2.00" fill="#000"/>
</g>
<g shape-rendering="crispEdges">
<rect x="422.20" y="1238.70" width="37.70" height="37.20" fill="#000"/>
<rect x="619.40" y="1779.40" width="37.60" height="37.20" fill="#000"/>
<rect x="816.40" y="1754.20" width="37.60" height="37.30" fill="#000"/>
<rect x="1013.90" y="1884.10" width="37.30" height="34.10" fill="#000"/>
<rect x="1046.30" y="1886.30" width="2.70" height="29.70" fill="#fff"/>
</g>
<ellipse cx="439.65" cy="1615.00" rx="20.2" ry="20.0"/>
<ellipse cx="637.05" cy="1557.65" rx="19.9" ry="19.85"/>
<ellipse cx="834.15" cy="1612.15" rx="20.0" ry="19.95"/>
<ellipse cx="1031.05" cy="1597.35" rx="20.0" ry="19.55"/>
<g shape-rendering="crispEdges">
<rect x="630.20" y="1572.60" width="4.40" height="2.20" fill="#fff"/>
<rect x="639.60" y="1572.60" width="4.40" height="2.20" fill="#fff"/>
<rect x="826.20" y="1627.20" width="5.20" height="2.60" fill="#fff"/>
<rect x="836.30" y="1627.20" width="5.20" height="2.60" fill="#fff"/>
<rect x="1023.40" y="1612.30" width="2.70" height="2.70" fill="#fff"/>
<rect x="1033.20" y="1612.30" width="5.00" height="2.70" fill="#fff"/>
<rect x="1045.80" y="1589.80" width="3.00" height="3.00" fill="#fff"/>
<rect x="1045.80" y="1600.00" width="2.70" height="4.30" fill="#fff"/>
<rect x="1043.40" y="1604.90" width="2.40" height="2.70" fill="#fff"/>
<rect x="1038.40" y="1609.80" width="2.50" height="2.20" fill="#fff"/>
</g>
<g shape-rendering="crispEdges">
<rect x="751.80" y="1453.00" width="2.30" height="99.50" fill="#000"/>
<rect x="592.00" y="1453.00" width="162.10" height="2.40" fill="#000"/>
<rect x="961.10" y="1714.60" width="2.40" height="97.10" fill="#000"/>
<rect x="961.10" y="1714.60" width="169.90" height="2.50" fill="#000"/>
</g>
<polygon shape-rendering="crispEdges" points="599.2,1450.5 607.1,1450.5 607.1,1448.1 614.5,1448.1 614.5,1445.6 622.1,1445.6 622.1,1443.1 629.2,1443.1 629.2,1467.8 624.3,1467.8 624.3,1465.3 617.2,1465.3 617.2,1462.8 612.0,1462.8 612.0,1460.1 604.6,1460.1 604.6,1457.9 599.2,1457.9"/>
<polygon shape-rendering="crispEdges" points="1093.3,1704.7 1100.9,1704.7 1100.9,1707.2 1108.3,1707.2 1108.3,1709.7 1116.0,1709.7 1116.0,1712.2 1123.4,1712.2 1123.4,1714.6 1125.8,1714.6 1125.8,1719.5 1118.2,1719.5 1118.2,1722.0 1113.2,1722.0 1113.2,1724.5 1105.8,1724.5 1105.8,1726.9 1100.9,1726.9 1100.9,1729.4 1093.3,1729.4"/>
</g>
</svg>
</body>
</html>
